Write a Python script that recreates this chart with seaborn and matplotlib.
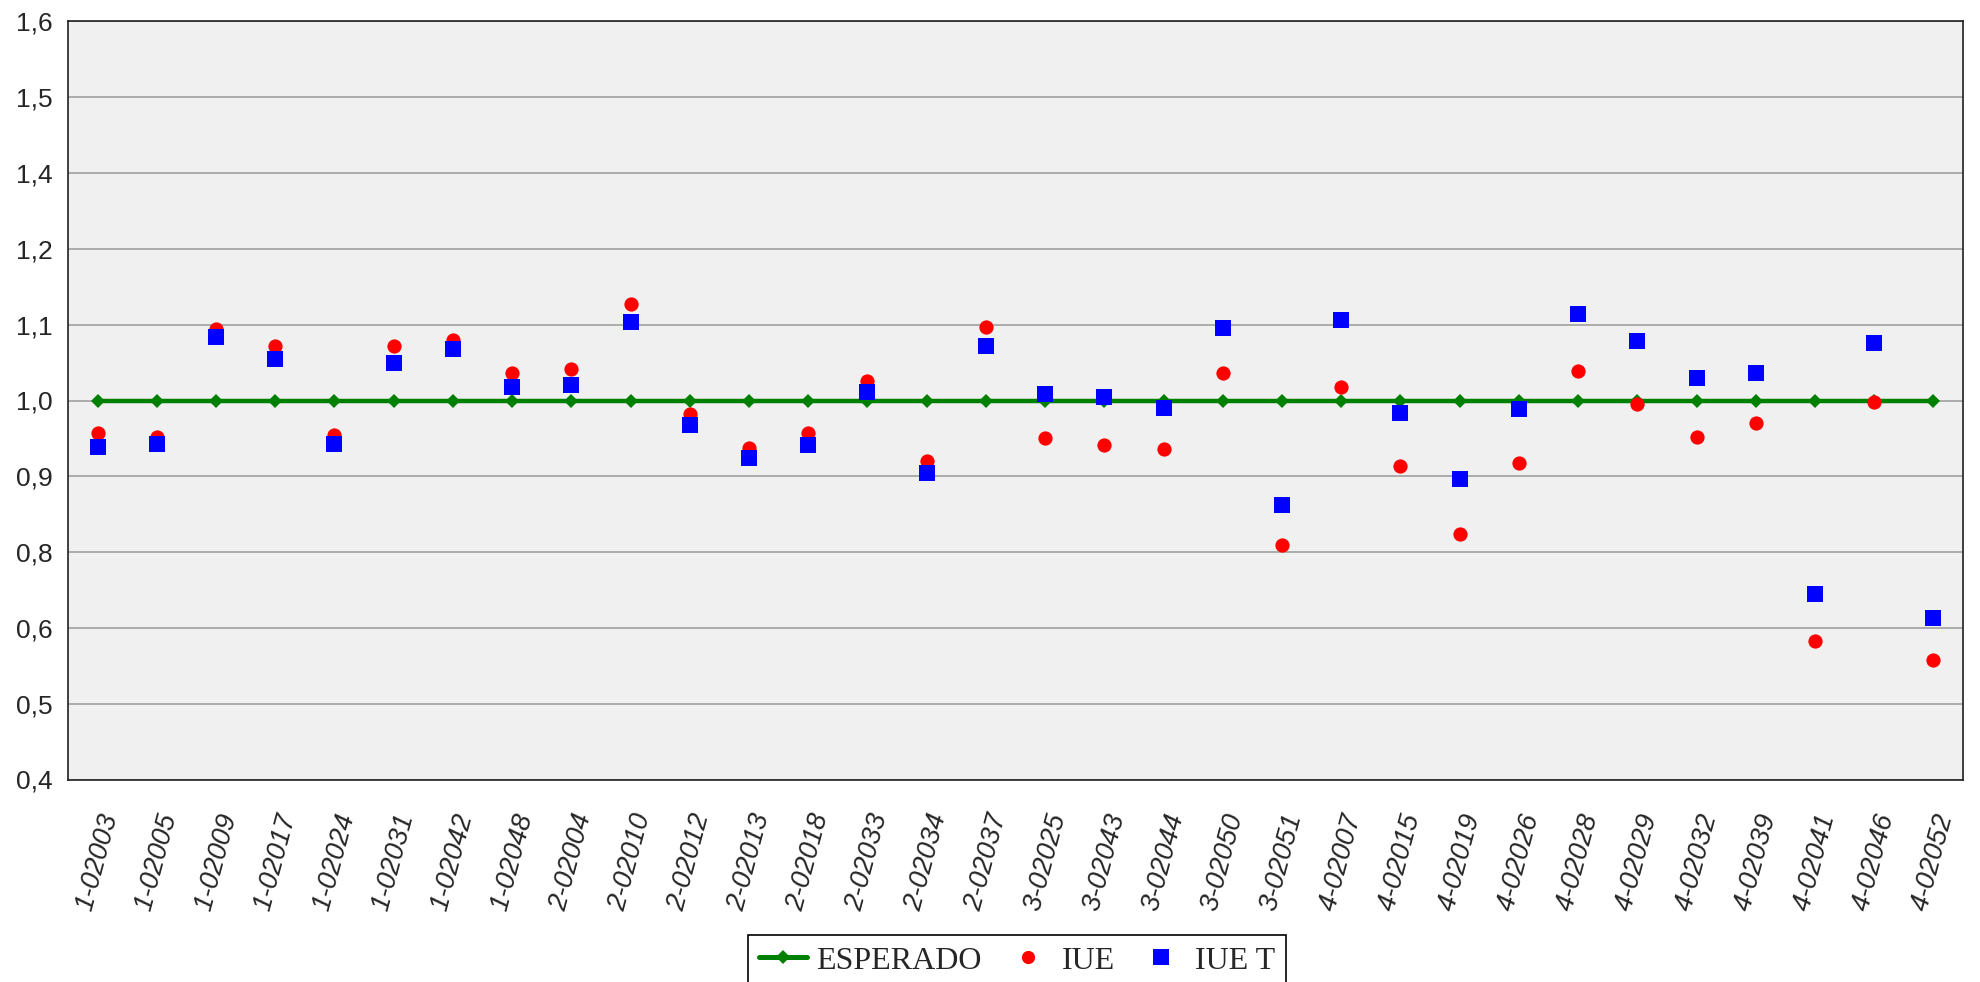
import matplotlib
matplotlib.use("Agg")
import matplotlib.pyplot as plt
import seaborn as sns
import pandas as pd
from matplotlib.lines import Line2D

categories = ["1-02003", "1-02005", "1-02009", "1-02017", "1-02024", "1-02031", "1-02042", "1-02048",
              "2-02004", "2-02010", "2-02012", "2-02013", "2-02018", "2-02033", "2-02034", "2-02037",
              "3-02025", "3-02043", "3-02044", "3-02050", "3-02051",
              "4-02007", "4-02015", "4-02019", "4-02026", "4-02028", "4-02029", "4-02032", "4-02039",
              "4-02041", "4-02046", "4-02052"]
esperado = [1.0] * 32
iue = [0.948, 0.943, 1.113, 1.087, 0.946, 1.086, 1.096, 1.044, 1.050, 1.153, 0.978,
       0.925, 0.948, 1.031, 0.905, 1.116, 0.940, 0.929, 0.924, 1.043, 0.772,
       1.021, 0.896, 0.788, 0.901, 1.046, 0.994, 0.942, 0.964, 0.619, 0.997, 0.589]
iue_t = [0.927, 0.931, 1.100, 1.065, 0.931, 1.060, 1.081, 1.022, 1.024, 1.125, 0.961,
         0.909, 0.929, 1.014, 0.886, 1.086, 1.010, 1.006, 0.988, 1.115, 0.835,
         1.128, 0.981, 0.876, 0.986, 1.137, 1.094, 1.036, 1.044, 0.693, 1.091, 0.656]
ytick_values = [0.4, 0.52, 0.64, 0.76, 0.88, 1.0, 1.12, 1.24, 1.36, 1.48, 1.6]
ytick_labels = ["0,4", "0,5", "0,6", "0,8", "0,9", "1,0", "1,1", "1,2", "1,4", "1,5", "1,6"]

df = pd.DataFrame({"cat": categories, "ESPERADO": esperado, "IUE": iue, "IUE T": iue_t})

sns.set_style("white")
plt.rcParams["font.family"] = ["Liberation Sans", "DejaVu Sans"]

fig = plt.figure(figsize=(19.81, 9.82), dpi=100)
ax = fig.add_axes([68 / 1981, 1 - 779.5 / 982, (1963 - 68) / 1981, (779.5 - 21.5) / 982])
ax.set_facecolor("#F0F0F0")

sns.lineplot(data=df, x="cat", y="ESPERADO", ax=ax, color="#008000", linewidth=3.2,
             marker="D", markersize=7, markeredgewidth=0, sort=False, zorder=3)
sns.scatterplot(data=df, x="cat", y="IUE", ax=ax, color="#FF0000", marker="o", s=105,
                linewidth=0, zorder=4)
sns.scatterplot(data=df, x="cat", y="IUE T", ax=ax, color="#0000FF", marker="s", s=125,
                linewidth=0, zorder=5)

ax.set_xlim(-0.5, len(categories) - 0.5)
ax.set_ylim(0.4, 1.6)
ax.set_yticks(ytick_values)
ax.set_yticklabels(ytick_labels, fontsize=19)
ax.set_xticks(range(len(categories)))
ax.set_xticklabels(categories, rotation=75, fontsize=19.5, fontstyle="italic")
ax.set_xticks([i - 0.5 for i in range(len(categories) + 1)], minor=True)
ax.tick_params(axis="x", which="major", length=0, pad=22)
ax.tick_params(axis="x", which="minor", length=5, width=1, color="#404040", direction="out")
ax.tick_params(axis="y", which="major", length=5.8, width=1, color="#404040", direction="out", pad=5)
ax.set_xlabel("")
ax.set_ylabel("")
ax.yaxis.grid(True, color="#A6A6A6", linewidth=1.3)
ax.set_axisbelow(True)
for s in ax.spines.values():
    s.set_visible(True)
    s.set_color("#202020")
    s.set_linewidth(1.2)

handles = [
    Line2D([0], [0], color="#008000", linewidth=3.6, marker="D", markersize=7, markeredgewidth=0),
    Line2D([0], [0], color="#FF0000", linestyle="none", marker="o", markersize=9.5, markeredgewidth=0),
    Line2D([0], [0], color="#0000FF", linestyle="none", marker="s", markersize=11, markeredgewidth=0),
]
leg = fig.legend(handles, ["ESPERADO", "IUE", "IUE T"], loc="upper center",
                 bbox_to_anchor=(1017 / 1981, 1 - 935 / 982), ncol=3, frameon=True,
                 fancybox=False, edgecolor="black", framealpha=1, borderaxespad=0,
                 prop={"family": "Liberation Serif", "size": 23},
                 handlelength=1.5, columnspacing=0.7, handletextpad=0.3, borderpad=0.35)
leg.get_frame().set_linewidth(1.2)

fig.savefig("out.png", dpi=100, facecolor="white")
